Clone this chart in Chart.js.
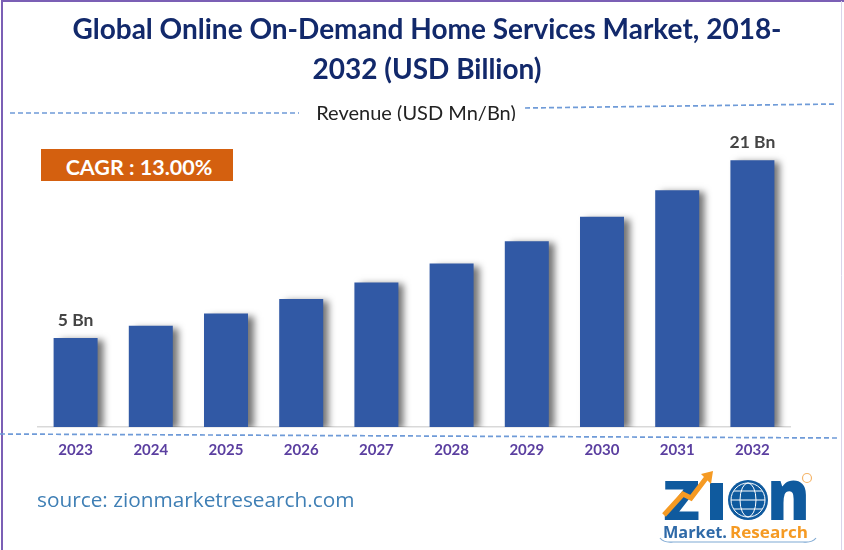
<!DOCTYPE html>
<html><head><meta charset="utf-8">
<script src="https://cdn.jsdelivr.net/npm/chart.js@4"></script>
<style>
html,body{margin:0;padding:0;background:#fff;overflow:hidden}
#wrap{position:relative;width:844px;height:550px;overflow:hidden;font-family:Lato,sans-serif}
canvas{position:absolute;left:0;top:0}
.t{position:absolute;white-space:nowrap}
#rev{left:300px;top:100px;width:232px;height:21px;overflow:hidden;text-align:center;font-size:20px;line-height:25px;color:#222}
#cagr{left:41px;top:149px;width:192px;height:32px;background:#d4600f;color:#fff;font-weight:700;font-size:21.5px;line-height:36px;text-align:center;text-indent:4px}
#src{left:37px;top:486px;font-family:"Open Sans",sans-serif;font-size:20.8px;line-height:26px;color:#3f7fb5}
#logo{position:absolute;left:655px;top:465px}
</style></head><body>
<div id="wrap">
<canvas id="c" width="844" height="550"></canvas>
<div class="t" id="rev">Revenue (USD Mn/Bn)</div>
<div class="t" id="cagr">CAGR : 13.00%</div>
<div class="t" id="src">source: zionmarketresearch.com</div>
<svg id="logo" width="170" height="82" viewBox="0 0 170 82">
  <text x="8" y="55" font-family="Open Sans" font-weight="800" font-size="54" textLength="37" lengthAdjust="spacingAndGlyphs" fill="#0f5a9e">Z</text>
  <rect x="55" y="18" width="13" height="37" fill="#0f5a9e"/>
  <circle cx="93" cy="35" r="20" fill="#0f5a9e"/>
  <circle cx="93" cy="35" r="17" fill="none" stroke="#fff" stroke-width="1"/>
  <ellipse cx="93" cy="35" rx="8" ry="17" fill="none" stroke="#fff" stroke-width="1"/>
  <path d="M76 35H110M79 26H107M79 44H107" stroke="#fff" stroke-width="1" fill="none"/>
  <text x="112" y="55" font-family="Open Sans" font-weight="800" font-size="70" textLength="43" lengthAdjust="spacingAndGlyphs" fill="#0f5a9e">n</text>
  <path d="M9 50 L28 29 L36 33 L52 12" fill="none" stroke="#f59a23" stroke-width="5"/>
  <path d="M46 9 L58 6 L56 19 Z" fill="#f59a23"/>
  <circle cx="152" cy="13" r="4.5" fill="none" stroke="#f5b56a" stroke-width="1.2"/>
  <text x="8" y="73" font-family="Open Sans" font-weight="700" font-size="16" textLength="64" lengthAdjust="spacingAndGlyphs" fill="#2f6aa8">Market.</text>
  <text x="75" y="73" font-family="Open Sans" font-weight="700" font-size="16" textLength="78" lengthAdjust="spacingAndGlyphs" fill="#f59a23">Research</text>
  <path d="M5 73 Q9 78 18 77 H148 Q157 78 161 73" fill="none" stroke="#7fa9d3" stroke-width="1.2"/>
</svg>
</div>
<script>
const categories = ["2023","2024","2025","2026","2027","2028","2029","2030","2031","2032"];
const revenue = [5, 6.1, 7.2, 8.5, 10, 11.7, 13.7, 15.9, 18.3, 21];
const labelledYears = ["2023","2032"];
const titleLines = ["Global Online On-Demand Home Services Market, 2018-","2032 (USD Billion)"];

const frame = {
  id:'frame',
  beforeDraw(ch){
    const x=ch.ctx;
    x.save();
    x.fillStyle='#fff';x.fillRect(0,0,844,550);
    x.strokeStyle='#7b5fb5';x.lineWidth=2;
    x.beginPath();x.moveTo(2,550);x.lineTo(2,1);x.lineTo(844,1);x.stroke();
    x.strokeStyle='#d9d3ea';x.lineWidth=1;
    x.beginPath();x.moveTo(841.5,1);x.lineTo(841.5,550);x.stroke();
    x.strokeStyle='#6f9bd8';x.lineWidth=1.7;x.setLineDash([5,3]);
    [[10,113,299,113],[525,108,837,104],[0,434,837,438]].forEach(l=>{
      x.beginPath();x.moveTo(l[0],l[1]);x.lineTo(l[2],l[3]);x.stroke();
    });
    x.restore();
  },
  beforeDatasetDraw(ch){
    const x=ch.ctx;x.save();
    x.shadowColor='rgba(0,0,0,0.55)';x.shadowBlur=7;x.shadowOffsetX=6;x.shadowOffsetY=2;
  },
  afterDatasetDraw(ch){ch.ctx.restore();},
  afterDatasetsDraw(ch){
    const x=ch.ctx,meta=ch.getDatasetMeta(0);
    x.save();x.fillStyle='#444';x.font='700 17.5px Lato';x.textAlign='center';x.textBaseline='bottom';
    categories.forEach((c,i)=>{
      if(labelledYears.includes(c)){
        x.fillText(revenue[i]+' Bn',meta.data[i].x,meta.data[i].y-9);
      }
    });
    x.restore();
  }
};

new Chart(document.getElementById('c'),{
  type:'bar',
  data:{labels:categories,datasets:[{data:revenue,base:-3,backgroundColor:'#3159a5',barPercentage:0.585,categoryPercentage:1}]},
  options:{
    responsive:false,animation:false,
    layout:{padding:{left:38,right:28,top:0,bottom:77}},
    plugins:{
      legend:{display:false},tooltip:{enabled:false},
      title:{display:true,text:titleLines,color:'#12296b',font:{family:'Lato',weight:'700',size:28,lineHeight:1.43},padding:{top:10,bottom:10}}
    },
    scales:{
      x:{grid:{display:false,drawTicks:false},border:{display:true,color:'#d9d9d9',width:1.5},
         ticks:{color:'#5b3fa0',font:{family:'Lato',weight:'700',size:15},padding:14,maxRotation:0,autoSkip:false}},
      y:{position:'right',min:-3,max:26.4,grid:{display:false,drawTicks:false},border:{display:false},ticks:{display:false},afterFit(s){s.width=26;}}
    }
  },
  plugins:[frame]
});
</script>
</body></html>
